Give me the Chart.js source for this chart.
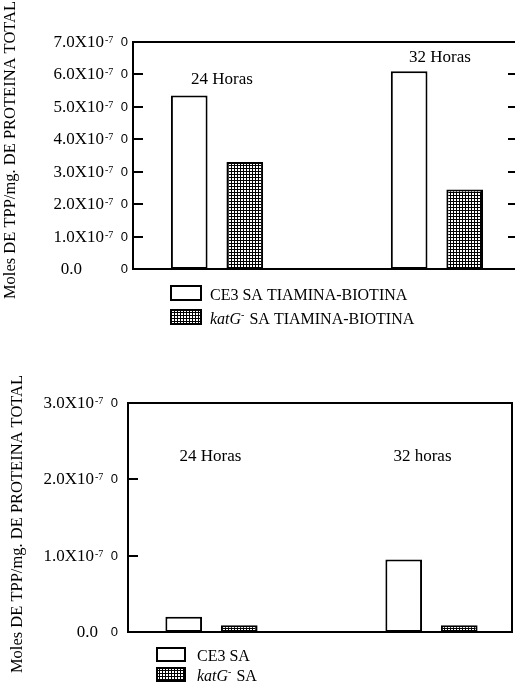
<!DOCTYPE html>
<html>
<head>
<meta charset="utf-8">
<script src="https://cdn.jsdelivr.net/npm/chart.js@4.4.0/dist/chart.umd.min.js"></script>
<style>
  body { margin: 0; background: #fff; width: 515px; height: 686px; overflow: hidden; }
  canvas { display: block; }
</style>
</head>
<body>
<canvas id="chartTop" width="515" height="340"></canvas>
<canvas id="chartBottom" width="515" height="346"></canvas>
<script>
// datos
var horasTop = ['24 Horas', '32 Horas'];
var horasBottom = ['24 Horas', '32 horas'];
var ce3Tiamina = [5.35e-7, 6.1e-7];
var katGTiamina = [3.3e-7, 2.45e-7];
var ce3 = [0.2e-7, 0.95e-7];
var katG = [0.09e-7, 0.09e-7];
var topTicks = [0, 1e-7, 2e-7, 3e-7, 4e-7, 5e-7, 6e-7, 7e-7];
var topTickLabels = ['0.0', '1.0X10-7', '2.0X10-7', '3.0X10-7', '4.0X10-7', '5.0X10-7', '6.0X10-7', '7.0X10-7'];
var bottomTicks = [0, 1e-7, 2e-7, 3e-7];
var bottomTickLabels = ['0.0', '1.0X10-7', '2.0X10-7', '3.0X10-7'];
var yTitle = 'Moles DE TPP/mg. DE PROTEINA TOTAL';

var serif = "'Liberation Serif', 'Times New Roman', serif";
var sans = "'Liberation Sans', Arial, sans-serif";

// trama punteada de las barras katG
function makePattern() {
  var c = document.createElement('canvas');
  c.width = 3; c.height = 3;
  var g = c.getContext('2d');
  g.fillStyle = '#fff';
  g.fillRect(0, 0, 3, 3);
  g.fillStyle = '#000';
  g.fillRect(0, 0, 3, 1);
  g.fillRect(0, 0, 1, 3);
  return g.createPattern(c, 'repeat');
}
var trama = makePattern();

// marco, ticks, etiquetas, leyenda y titulo
var framePlugin = {
  id: 'frame',
  afterDatasetsDraw: function(chart, args, o) {
    var ctx = chart.ctx;
    var a = chart.chartArea;
    var ys = chart.scales.y;
    var xs = chart.scales.x;
    ctx.save();
    ctx.strokeStyle = '#000';
    ctx.lineWidth = 2;
    ctx.beginPath();
    ctx.moveTo(a.left, a.top); ctx.lineTo(a.right, a.top);
    ctx.moveTo(a.left, a.top - 1); ctx.lineTo(a.left, a.bottom + 1);
    ctx.moveTo(a.left, a.bottom); ctx.lineTo(a.right, a.bottom);
    if (o.rightLine) { ctx.moveTo(a.right - 1, a.top - 1); ctx.lineTo(a.right - 1, a.bottom + 1); }
    o.ticks.forEach(function(v) {
      var py = Math.round(ys.getPixelForValue(v));
      ctx.moveTo(a.left, py); ctx.lineTo(a.left + 10, py);
      if (o.rightTicks) { ctx.moveTo(a.right, py); ctx.lineTo(a.right - 7, py); }
    });
    ctx.stroke();

    // etiquetas del eje y
    ctx.fillStyle = '#000';
    o.ticks.forEach(function(v, i) {
      var py = ys.getPixelForValue(v);
      var lab = o.tickLabels[i];
      ctx.textAlign = 'right';
      ctx.textBaseline = 'alphabetic';
      if (lab.indexOf('X10') >= 0) {
        var parts = lab.split('X10');
        ctx.font = '17px ' + serif;
        ctx.fillText(parts[0] + 'X10', o.mantRight, py + 5);
        ctx.textAlign = 'left';
        ctx.font = '10px ' + serif;
        ctx.fillText(parts[1], o.supLeft, py + 1);
      } else {
        ctx.font = '17px ' + serif;
        ctx.fillText(lab, o.zeroLabelRight, py + 5);
      }
      ctx.textAlign = 'right';
      ctx.font = '13px ' + sans;
      ctx.fillText('0', o.zeroMarkRight, py + 4);
    });

    // rotulos de horas
    ctx.font = '17px ' + serif;
    ctx.textAlign = 'center';
    o.groupLabels.forEach(function(t, i) {
      ctx.fillText(t, xs.getPixelForValue(i) + o.groupLabelDx[i], ys.getPixelForValue(o.groupLabelY[i]));
    });

    // titulo del eje y
    ctx.save();
    ctx.translate(o.titleX, o.titleY);
    ctx.rotate(-Math.PI / 2);
    ctx.font = '16.5px ' + serif;
    ctx.textAlign = 'center';
    ctx.textBaseline = 'middle';
    ctx.fillText(yTitle, 0, 0);
    ctx.restore();

    // leyenda
    chart.data.datasets.forEach(function(ds, i) {
      var L = o.legend;
      var by = L.y + i * L.step;
      ctx.fillStyle = ds.backgroundColor;
      ctx.fillRect(L.x, by, L.w, L.h);
      ctx.lineWidth = 2;
      ctx.strokeRect(L.x + 1, by + 1, L.w - 2, L.h - 2);
      ctx.fillStyle = '#000';
      ctx.textAlign = 'left';
      var tx = L.x + L.w + L.gap;
      var base = by + L.h - 1;
      if (ds.label.indexOf('katG') === 0) {
        ctx.font = 'italic 16px ' + serif;
        ctx.fillText('katG', tx, base);
        tx += ctx.measureText('katG').width;
        ctx.font = '10px ' + serif;
        ctx.fillText('-', tx, base - 6);
        tx += ctx.measureText('-').width + 1;
        ctx.font = '16px ' + serif;
        ctx.fillText(ds.label.replace('katG-', ''), tx, base);
      } else {
        ctx.font = '16px ' + serif;
        ctx.fillText(ds.label, tx, base);
      }
    });
    ctx.restore();
  }
};

function makeChart(id, cats, serieA, serieB, nameA, nameB, yMax, pad, xMin, xMax, frameOpts) {
  var ctx = document.getElementById(id).getContext('2d');
  return new Chart(ctx, {
    type: 'bar',
    data: {
      datasets: [{
        label: nameA,
        data: cats.map(function(c, i) { return { x: i, y: serieA[i] }; }),
        backgroundColor: '#fff'
      }, {
        label: nameB,
        data: cats.map(function(c, i) { return { x: i, y: serieB[i] }; }),
        backgroundColor: trama
      }]
    },
    options: {
      responsive: false,
      animation: false,
      devicePixelRatio: 1,
      layout: { padding: pad },
      datasets: {
        bar: {
          categoryPercentage: 0.505,
          barPercentage: 0.66,
          borderWidth: 2,
          borderColor: '#000',
          borderSkipped: false
        }
      },
      scales: {
        x: {
          type: 'linear', display: false, offset: false, min: xMin, max: xMax,
          afterBuildTicks: function(s) { s.ticks = cats.map(function(c, i) { return { value: i }; }); }
        },
        y: { display: false, min: 0, max: yMax }
      },
      plugins: {
        legend: { display: false },
        tooltip: { enabled: false },
        frame: frameOpts
      }
    },
    plugins: [framePlugin]
  });
}

makeChart('chartTop', horasTop, ce3Tiamina, katGTiamina,
  'CE3 SA TIAMINA-BIOTINA', 'katG- SA TIAMINA-BIOTINA', 7e-7,
  { left: 133, top: 42, right: 0, bottom: 71 }, -0.382, 1.355, {
    ticks: topTicks, tickLabels: topTickLabels,
    mantRight: 104, supLeft: 105, zeroMarkRight: 128, zeroLabelRight: 82,
    rightLine: false, rightTicks: true,
    groupLabels: horasTop, groupLabelDx: [5, 3], groupLabelY: [5.7e-7, 6.38e-7],
    titleX: 11, titleY: 150,
    legend: { x: 170, y: 285, w: 32, h: 16, step: 24, gap: 8 }
  });

makeChart('chartBottom', horasBottom, ce3, katG,
  'CE3 SA', 'katG- SA', 3e-7,
  { left: 128, top: 63, right: 2, bottom: 54 }, -0.3795, 1.3705, {
    ticks: bottomTicks, tickLabels: bottomTickLabels,
    mantRight: 94, supLeft: 95, zeroMarkRight: 118, zeroLabelRight: 98,
    rightLine: true, rightTicks: false,
    groupLabels: horasBottom, groupLabelDx: [-1, -9], groupLabelY: [2.24e-7, 2.24e-7],
    titleX: 18, titleY: 184,
    legend: { x: 156, y: 307, w: 30, h: 15, step: 20, gap: 11 }
  });
</script>
</body>
</html>
